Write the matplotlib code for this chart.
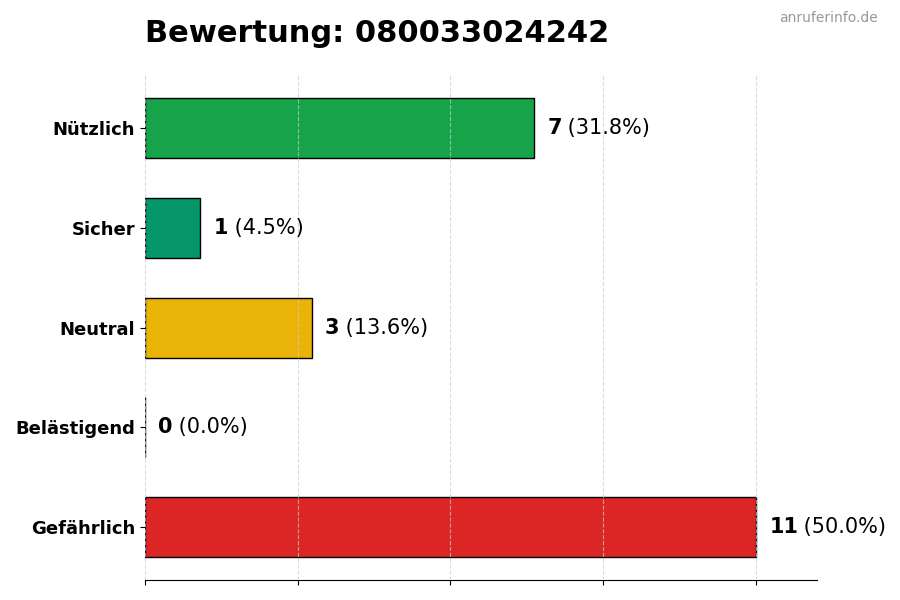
import matplotlib
matplotlib.use('Agg')
from matplotlib import pyplot as plt
import numpy as np

categories = ["Nützlich", "Sicher", "Neutral", "Belästigend", "Gefährlich"]
counts = [7, 1, 3, 0, 11]
colors = ["#16a34a", "#059669", "#eab308", "#dc2626", "#dc2626"]
number = "080033024242"

total = sum(counts)
max_val = max(counts)

fig = plt.figure(figsize=(9, 6), dpi=100)
ax = fig.add_axes([0.161, 0.033, 0.747, 0.842])

y = np.arange(len(categories))[::-1]
ax.barh(y, counts, height=0.6, color=colors, edgecolor='black', linewidth=1)

for yi, c in zip(y, counts):
    pct = c / total * 100
    t = ax.text(c + max_val * 0.022, yi, f"{c}", fontsize=15, fontweight='bold',
                va='center', ha='left')
    fig.canvas.draw()
    bb = t.get_window_extent()
    x_end = ax.transData.inverted().transform((bb.x1, bb.y0))[0]
    ax.text(x_end, yi, f" ({pct:.1f}%)", fontsize=15, va='center', ha='left')

ax.set_yticks(y)
ax.set_yticklabels(categories, fontsize=13, fontweight='bold')
ax.set_xticks(np.linspace(0, max_val, 5))
ax.set_xticklabels([])
ax.set_xlim(0, max_val * 1.1)
ax.grid(axis='x', linestyle='--', color='#cccccc', alpha=0.7)
ax.set_axisbelow(False)
for s in ['top', 'right', 'left']:
    ax.spines[s].set_visible(False)

fig.text(0.161, 0.945, f"Bewertung: {number}", fontsize=22, fontweight='bold',
         ha='left', va='center')
fig.text(0.975, 0.97, "anruferinfo.de", fontsize=10, color='#999999',
         ha='right', va='center')

plt.savefig('out.png')
